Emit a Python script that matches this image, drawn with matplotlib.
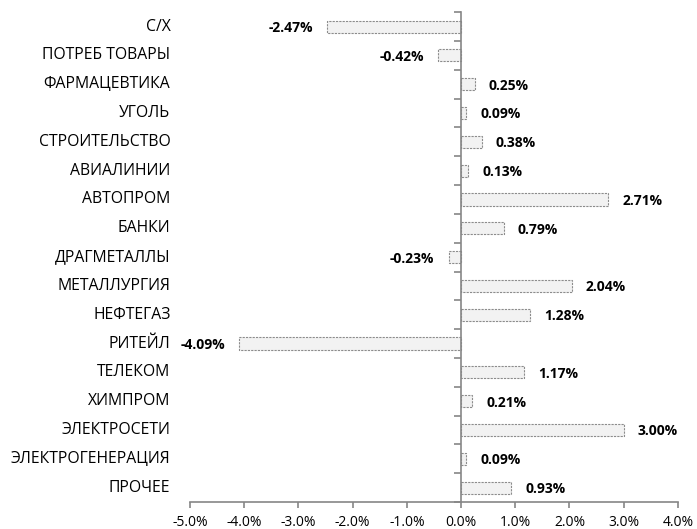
import numpy as np
import matplotlib.pyplot as plt
from matplotlib.ticker import FuncFormatter

categories = ['С/Х', 'ПОТРЕБ ТОВАРЫ', 'ФАРМАЦЕВТИКА', 'УГОЛЬ', 'СТРОИТЕЛЬСТВО',
              'АВИАЛИНИИ', 'АВТОПРОМ', 'БАНКИ', 'ДРАГМЕТАЛЛЫ', 'МЕТАЛЛУРГИЯ',
              'НЕФТЕГАЗ', 'РИТЕЙЛ', 'ТЕЛЕКОМ', 'ХИМПРОМ', 'ЭЛЕКТРОСЕТИ',
              'ЭЛЕКТРОГЕНЕРАЦИЯ', 'ПРОЧЕЕ']
values = [-2.47, -0.42, 0.25, 0.09, 0.38, 0.13, 2.71, 0.79, -0.23, 2.04,
          1.28, -4.09, 1.17, 0.21, 3.00, 0.09, 0.93]
xticks = np.arange(-5, 5, 1)

plt.rcParams['font.family'] = ['Open Sans', 'DejaVu Sans']
axis_col = '#868686'

fig = plt.figure(figsize=(6.97, 5.29), dpi=100)
ax = fig.add_axes([0.2726, 0.051, 0.700, 0.926])

y = np.arange(len(categories))
ax.barh(y, values, height=0.42, color='#f2f2f2', edgecolor='#8c8c8c',
        linewidth=0.8, linestyle=(0, (2, 1)))

ax.set_xlim(-5, 4)
ax.set_ylim(len(categories) - 0.5, -0.5)

ax.spines['top'].set_visible(False)
ax.spines['right'].set_visible(False)
ax.spines['left'].set_position(('data', 0))
ax.spines['left'].set_color(axis_col)
ax.spines['bottom'].set_color(axis_col)
ax.spines['left'].set_linewidth(1.2)
ax.spines['bottom'].set_linewidth(1.2)

ax.set_xticks(xticks)
ax.xaxis.set_major_formatter(FuncFormatter(lambda v, p: '%.1f%%' % v))
ax.tick_params(axis='x', colors=axis_col, labelcolor='black', labelsize=10,
               length=4, width=1.2, direction='out', pad=5)

ax.set_yticks(np.arange(-0.5, len(categories), 1))
ax.set_yticklabels([])
ax.tick_params(axis='y', colors=axis_col, length=5, width=1.2, direction='out')

tr = ax.get_yaxis_transform()
for i, c in enumerate(categories):
    ax.text(-0.04, i, c, transform=tr, ha='right', va='center', fontsize=11.3)

for i, v in enumerate(values):
    if v >= 0:
        ax.text(v + 0.26, i + 0.05, '%.2f%%' % v, ha='left', va='center',
                fontsize=10, fontweight='bold')
    else:
        ax.text(v - 0.26, i + 0.05, '%.2f%%' % v, ha='right', va='center',
                fontsize=10, fontweight='bold')

plt.savefig('out.png', dpi=100)
